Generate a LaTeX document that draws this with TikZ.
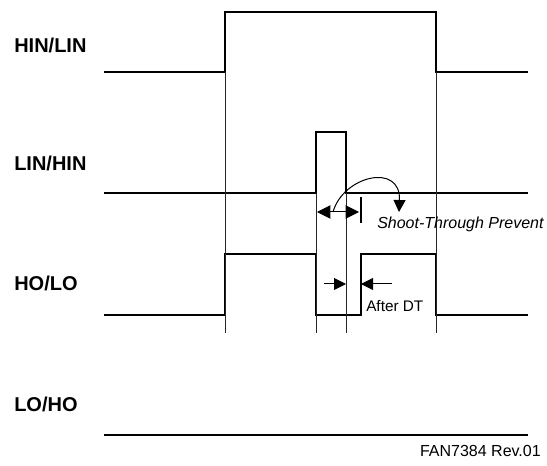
\documentclass[tikz,border=0pt]{standalone}
\usepackage{fontspec}
\setmainfont{Liberation Sans}
\usetikzlibrary{arrows.meta}
\begin{document}
\begin{tikzpicture}[x=0.75pt,y=-0.75pt,
  wave/.style={line width=2pt, line join=miter},
  guide/.style={line width=0.6pt, black!85},
  lbl/.style={font=\fontsize{15}{18}\selectfont\bfseries, anchor=base west, inner sep=0pt},
  note/.style={font=\fontsize{11.5}{14}\selectfont, anchor=base west, inner sep=0pt},
  arr/.style={line width=0.75pt, -{Triangle[length=9pt,width=9pt]}},
  bigarr/.style={line width=0.75pt, {Triangle[length=10pt,width=10pt]}-{Triangle[length=10pt,width=10pt]}}]
\useasboundingbox (0,0) rectangle (547,466);

% labels
\node[lbl] (l1) at (14,52.5) {HIN/LIN};
\node[lbl] (l2) at (14,170.5) {LIN/HIN};
\node[lbl] (l3) at (14,290.5) {HO/LO};
\node[lbl] (l4) at (14,412) {LO/HO};

% waveforms
\draw[wave] (104,72) -- (225,72) -- (225,12) -- (436,12) -- (436,72) -- (528,72);
\draw[wave] (104,193) -- (316,193) -- (316,132) -- (346,132) -- (346,193) -- (528,193);
\draw[wave] (104,315) -- (225,315) -- (225,254) -- (316,254) -- (316,315) -- (361,315)
  -- (361,254) -- (436,254) -- (436,315) -- (528,315);
\draw[wave] (104,435) -- (528,435);

% guide lines
\draw[guide] (225,72) -- (225,333);
\draw[guide] (436,72) -- (436,333);
\draw[guide] (316,193) -- (316,333);
\draw[guide] (346,193) -- (346,333);

% shoot-through prevent
\coordinate (sa) at (317,212);
\coordinate (sb) at (359,212);
\draw[bigarr] (sa) -- (sb);
\coordinate (t1) at (361,197);
\coordinate (t2) at (361,223);
\draw[line width=1.3pt] (t1) -- (t2);
\coordinate (cs) at (333,212);
\coordinate (ce) at (399,212);
\draw[arr] (cs) .. controls (343,176) and (401,162) .. (ce);
\node[note, font=\fontsize{12}{14}\selectfont\itshape] (stp) at (377,228.5) {Shoot-Through Prevent};

% after DT
\coordinate (d1) at (324,284);
\coordinate (d2) at (346,284);
\coordinate (d3) at (392,284);
\coordinate (d4) at (361,284);
\draw[arr] (d1) -- (d2);
\draw[arr] (d3) -- (d4);
\node[note] (adt) at (366,312) {After DT};

% revision
\node[note, anchor=base east, font=\fontsize{12}{14}\selectfont] (rev) at (541,457) {FAN7384 Rev.01};
\end{tikzpicture}
\end{document}
